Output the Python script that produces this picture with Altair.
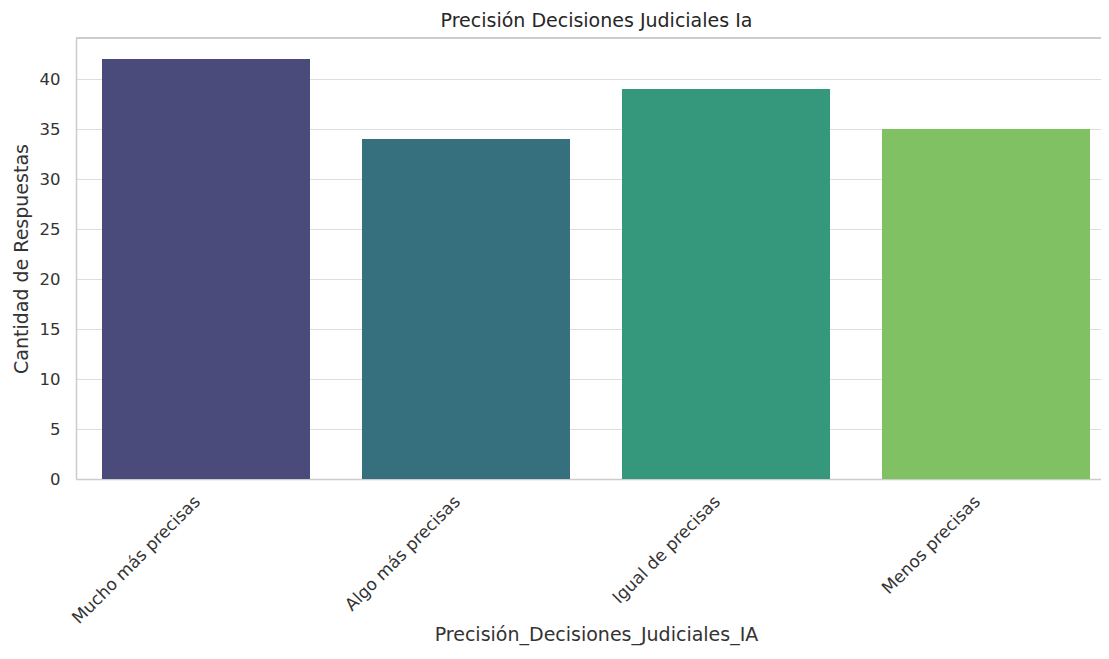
import altair as alt
import pandas as pd

categorias = ["Mucho más precisas", "Algo más precisas", "Igual de precisas", "Menos precisas"]
valores = [42, 34, 39, 35]
colores = ["#4a4b7b", "#36707f", "#35977b", "#80c263"]

df = pd.DataFrame({"cat": categorias, "val": valores})

bars = alt.Chart(df).mark_bar().encode(
    x=alt.X("cat:N", sort=categorias, title="Precisión_Decisiones_Judiciales_IA",
            scale=alt.Scale(paddingInner=0.2, paddingOuter=0.1, range=[0, 1040]),
            axis=alt.Axis(labelAngle=-45, labelAlign="right", labelBaseline="top",
                          labelFontSize=17, titleFontSize=19, titleFontWeight="normal",
                          labelColor="#333333", titleColor="#333333", ticks=False,
                          labelPadding=14, labelOffset=-14, titleX=520, titleY=146,
                          titleBaseline="top",
                          domainColor="#cccccc", domainWidth=1.5, grid=False)),
    y=alt.Y("val:Q", title="Cantidad de Respuestas",
            scale=alt.Scale(domain=[0, 44.1], nice=False),
            axis=alt.Axis(values=[0, 5, 10, 15, 20, 25, 30, 35, 40], labelFontSize=16.5,
                          titleFontSize=19, titleFontWeight="normal", labelColor="#333333",
                          titleColor="#333333", ticks=False, labelPadding=16, titlePadding=8,
                          domainColor="#cccccc", domainWidth=1.5, gridColor="#dddddd",
                          gridWidth=1.2)),
    color=alt.Color("cat:N", sort=categorias, scale=alt.Scale(domain=categorias, range=colores),
                    legend=None),
)

top_spine = alt.Chart(df).mark_rule(color="#cccccc", strokeWidth=1.5).encode(
    x=alt.value(0), x2=alt.value(1025), y=alt.value(0)
)

chart = alt.layer(bars, top_spine).properties(
    width=1025, height=441,
    title=alt.TitleParams("Precisión Decisiones Judiciales Ia", fontSize=19, fontWeight="normal",
                          color="#262626", offset=6, dx=8),
    autosize=alt.AutoSizeParams(type="none"),
    padding={"left": 68, "top": 30, "right": 0, "bottom": 168},
).configure(font="DejaVu Sans").configure_view(strokeWidth=0)

chart.save("out.html", embed_options={"renderer": "svg", "actions": False})
